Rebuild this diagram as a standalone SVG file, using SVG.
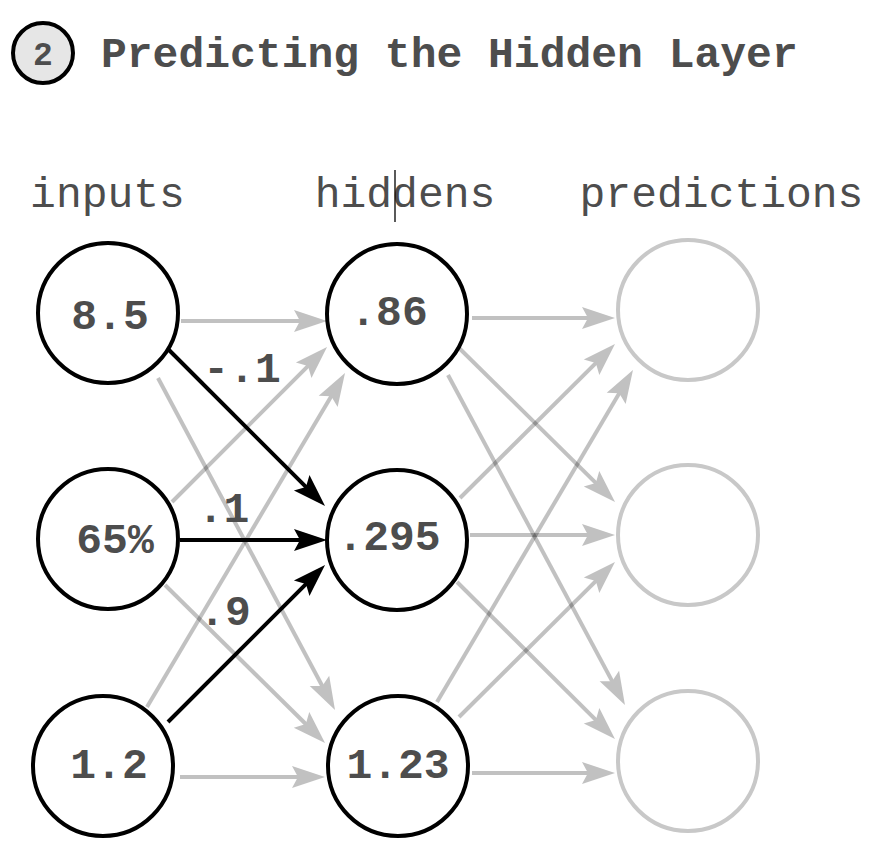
<svg xmlns="http://www.w3.org/2000/svg" width="882" height="866" viewBox="0 0 882 866">
<style>
text{font-family:"Liberation Mono","Courier New",monospace;fill:#4d4d4d}
.b{font-weight:bold}
.title{font-size:43px;font-weight:bold}
.lbl{font-size:43px;text-anchor:middle}
.val{font-size:43px;font-weight:bold;text-anchor:middle}
.node{fill:#fff;stroke:#000;stroke-width:4}
.pred{fill:#fff;stroke:#c8c8c8;stroke-width:4}
.g{opacity:0.24}
.g path{fill:none;stroke:#000;stroke-width:4;marker-end:url(#ah)}
.k path{fill:none;stroke:#000;stroke-width:4;marker-end:url(#ah)}
</style>
<defs>
<marker id="ah" markerUnits="userSpaceOnUse" markerWidth="40" markerHeight="30" refX="13" refY="11" orient="auto" overflow="visible">
<path d="M0,0 L33,11 L0,22 L6,11 Z" fill="#000"/>
</marker>
</defs>
<rect width="882" height="866" fill="#fff"/>
<g id="title">
<circle cx="43" cy="53" r="30" fill="#e6e6e6" stroke="#000" stroke-width="4"/>
<text x="43" y="65" class="b" font-size="33" text-anchor="middle">2</text>
<text x="101" y="67" class="title">Predicting the Hidden Layer</text>
</g>
<g id="layer-labels">
<text x="107.5" y="207" class="lbl">inputs</text>
<text x="405" y="207" class="lbl">hiddens</text>
<text x="721.5" y="207" class="lbl">predictions</text>
<line x1="395" y1="170" x2="395" y2="222" stroke="#000" stroke-width="1.3"/>
</g>
<g id="connectors">
<g class="g"><path d="M181,321 L307,321"/></g>
<g class="g"><path d="M158,378 L325.6,692.3"/></g>
<g class="g"><path d="M172,502 L312.9,361.1"/></g>
<g class="g"><path d="M165,585 L310.8,729"/></g>
<g class="g"><path d="M147,707 L334.8,390.2"/></g>
<g class="g"><path d="M180,777 L305,777"/></g>
<g class="g"><path d="M472,318 L595,318"/></g>
<g class="g"><path d="M455,344 L600.8,487.9"/></g>
<g class="g"><path d="M448,375 L615.5,687.4"/></g>
<g class="g"><path d="M460,498 L600.8,358.1"/></g>
<g class="g"><path d="M470,535 L595,535"/></g>
<g class="g"><path d="M457,582 L600.8,724.9"/></g>
<g class="g"><path d="M437,702 L622.8,387.2"/></g>
<g class="g"><path d="M459,717 L600.8,576.1"/></g>
<g class="g"><path d="M472,773 L595,773"/></g>
<g class="k"><path d="M167,348 L310.9,491.9"/></g>
<g class="k"><path d="M180,540 L307,540"/></g>
<g class="k"><path d="M168,722 L310.9,579.1"/></g>
<text x="242" y="382" class="val">-.1</text>
<text x="223.5" y="522" class="val">.1</text>
<text x="225" y="625" class="val">.9</text>
</g>
<g id="in1"><circle cx="108" cy="313" r="70" class="node"/><text x="110" y="329" class="val">8.5</text></g>
<g id="in2"><circle cx="108" cy="539" r="70" class="node"/><text x="115" y="553" class="val">65%</text></g>
<g id="in3"><circle cx="103" cy="766" r="70" class="node"/><text x="109" y="778" class="val">1.2</text></g>
<g id="h1"><circle cx="397" cy="314" r="70" class="node"/><text x="389" y="325" class="val">.86</text></g>
<g id="h2"><circle cx="397" cy="540" r="70" class="node"/><text x="389" y="550" class="val">.295</text></g>
<g id="h3"><circle cx="398" cy="766" r="70" class="node"/><text x="398" y="778" class="val">1.23</text></g>
<g id="p1"><circle cx="688" cy="310" r="70" class="pred"/></g>
<g id="p2"><circle cx="688" cy="535" r="70" class="pred"/></g>
<g id="p3"><circle cx="688" cy="761" r="70" class="pred"/></g>
</svg>
